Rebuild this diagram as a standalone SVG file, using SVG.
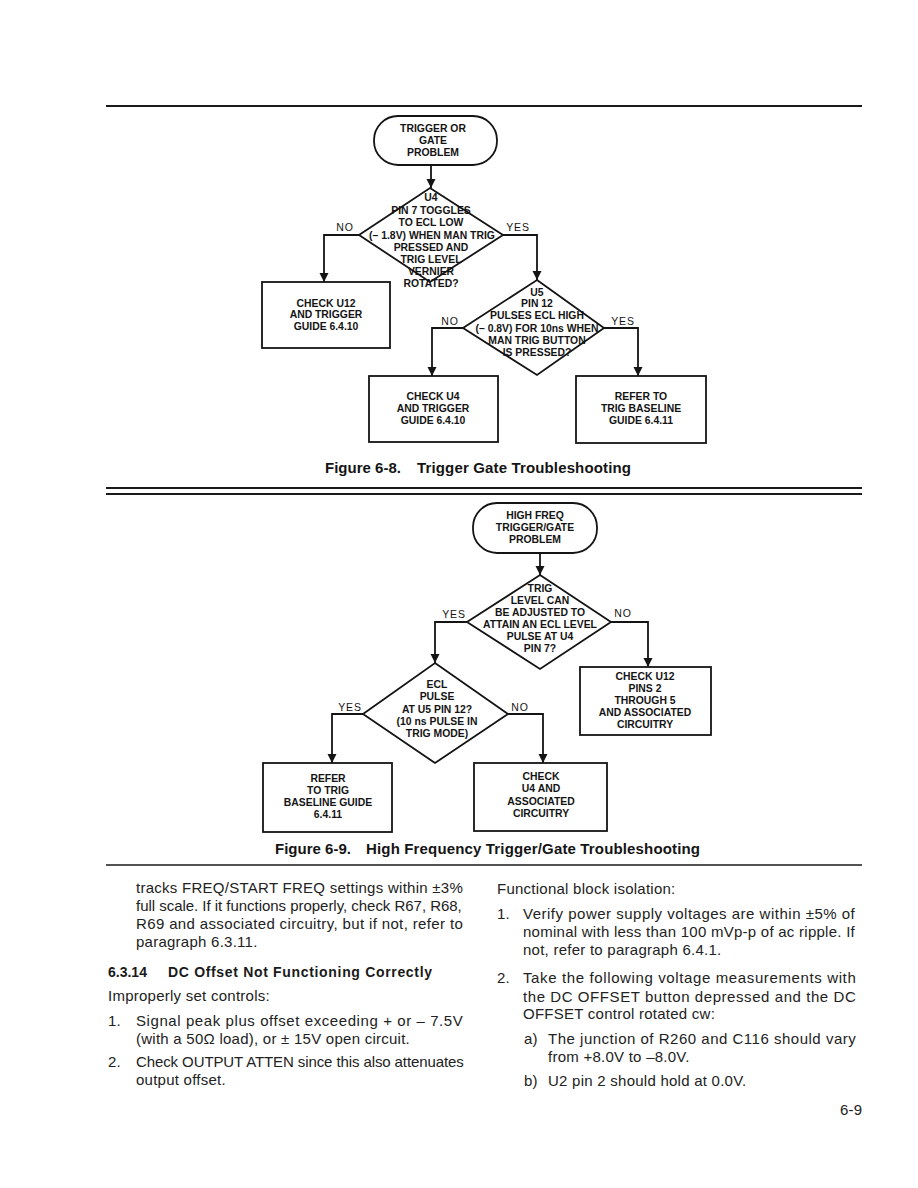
<svg xmlns="http://www.w3.org/2000/svg" width="918" height="1188" viewBox="0 0 918 1188">
<style>
.bg{fill:#fff}
.rule{stroke:#1a1a1a;stroke-width:2;fill:none}
.shape{fill:none;stroke:#141414;stroke-width:1.8}
.conn{fill:none;stroke:#141414;stroke-width:1.8}
.ft{font-family:"Liberation Sans",Arial,sans-serif;font-size:10.4px;font-weight:bold;fill:#141414;text-anchor:middle}
.lbl{font-family:"Liberation Sans",Arial,sans-serif;font-size:10.5px;fill:#141414;text-anchor:middle;letter-spacing:0.8px}
.cap{font-family:"Liberation Sans",Arial,sans-serif;font-size:15px;font-weight:bold;fill:#141414}
.body{font-family:"Liberation Sans",Arial,sans-serif;font-size:15px;letter-spacing:0.25px;fill:#222}
.head{font-family:"Liberation Sans",Arial,sans-serif;font-size:14px;font-weight:bold;fill:#1a1a1a}
</style>
<defs>
<marker id="arr" markerUnits="userSpaceOnUse" markerWidth="10" markerHeight="10" refX="9" refY="4.5" orient="auto">
<path d="M0,0 L9,4.5 L0,9 z" fill="#141414"/>
</marker>
</defs>
<rect class="bg" x="0" y="0" width="918" height="1188"/>

<g id="rules">
<line class="rule" x1="106" y1="106" x2="862" y2="106"/>
<line class="rule" x1="106" y1="488" x2="862" y2="488" style="stroke-width:1.8"/>
<line class="rule" x1="106" y1="494" x2="862" y2="494" style="stroke-width:1.8"/>
<line class="rule" x1="106" y1="865" x2="862" y2="865" style="stroke-width:1.6"/>
</g>

<g id="connectors">
<path class="conn" d="M431,166 L431,188" marker-end="url(#arr)"/>
<path class="conn" d="M359,235 L324,235 L324,282" marker-end="url(#arr)"/>
<path class="conn" d="M503,235 L537,235 L537,280" marker-end="url(#arr)"/>
<path class="conn" d="M463,328 L432,328 L432,376" marker-end="url(#arr)"/>
<path class="conn" d="M604,328 L638,328 L638,376" marker-end="url(#arr)"/>
<path class="conn" d="M540,553 L540,575" marker-end="url(#arr)"/>
<path class="conn" d="M467,622 L435,622 L435,663" marker-end="url(#arr)"/>
<path class="conn" d="M611,622 L648,622 L648,667" marker-end="url(#arr)"/>
<path class="conn" d="M363,714 L332,714 L332,763" marker-end="url(#arr)"/>
<path class="conn" d="M508,714 L543,714 L543,763" marker-end="url(#arr)"/>
<text class="lbl" x="345" y="231">NO</text>
<text class="lbl" x="518" y="231">YES</text>
<text class="lbl" x="450" y="325">NO</text>
<text class="lbl" x="623" y="325">YES</text>
<text class="lbl" x="454" y="618">YES</text>
<text class="lbl" x="623" y="617">NO</text>
<text class="lbl" x="350" y="711">YES</text>
<text class="lbl" x="520" y="711">NO</text>
</g>

<g id="start1">
<rect class="shape" x="374" y="116" width="123" height="49" rx="24" ry="24"/>
<text class="ft" x="433" y="131.5">TRIGGER OR</text>
<text class="ft" x="433" y="143.5">GATE</text>
<text class="ft" x="433" y="155.5">PROBLEM</text>
</g>

<g id="dec1">
<path class="shape" d="M430,188 L503,235 L430,282 L359,235 Z"/>
<text class="ft" x="431" y="200.5">U4</text>
<text class="ft" x="431" y="213.5">PIN 7 TOGGLES</text>
<text class="ft" x="431" y="225.5">TO ECL LOW</text>
<text class="ft" x="432" y="238.5">(– 1.8V) WHEN MAN TRIG</text>
<text class="ft" x="431" y="250.5">PRESSED AND</text>
<text class="ft" x="431" y="262.5">TRIG LEVEL</text>
<text class="ft" x="431" y="274.5">VERNIER</text>
<text class="ft" x="431" y="286.5">ROTATED?</text>
</g>

<g id="box1">
<rect class="shape" x="262" y="282" width="128" height="66"/>
<text class="ft" x="326" y="306.5">CHECK U12</text>
<text class="ft" x="326" y="318">AND TRIGGER</text>
<text class="ft" x="326" y="329.5">GUIDE 6.4.10</text>
</g>

<g id="dec2">
<path class="shape" d="M537,280 L604,328 L537,375 L463,328 Z"/>
<text class="ft" x="537" y="295.5">U5</text>
<text class="ft" x="537" y="306.5">PIN 12</text>
<text class="ft" x="537" y="318.5">PULSES ECL HIGH</text>
<text class="ft" x="537" y="331.5">(– 0.8V) FOR 10ns WHEN</text>
<text class="ft" x="537" y="343.5">MAN TRIG BUTTON</text>
<text class="ft" x="537" y="355.5">IS PRESSED?</text>
</g>

<g id="box2">
<rect class="shape" x="369" y="376" width="129" height="66"/>
<text class="ft" x="433" y="399.5">CHECK U4</text>
<text class="ft" x="433" y="411.5">AND TRIGGER</text>
<text class="ft" x="433" y="423.5">GUIDE 6.4.10</text>
</g>

<g id="box3">
<rect class="shape" x="576" y="376" width="130" height="67"/>
<text class="ft" x="641" y="399.5">REFER TO</text>
<text class="ft" x="641" y="411.5">TRIG BASELINE</text>
<text class="ft" x="641" y="423.5">GUIDE 6.4.11</text>
</g>

<g id="caption1">
<text class="cap" x="325" y="473" textLength="76">Figure 6-8.</text>
<text class="cap" x="417" y="473" textLength="214">Trigger Gate Troubleshooting</text>
</g>

<g id="start2">
<rect class="shape" x="473" y="503" width="124" height="50" rx="24" ry="24"/>
<text class="ft" x="535" y="518.5">HIGH FREQ</text>
<text class="ft" x="535" y="530.5">TRIGGER/GATE</text>
<text class="ft" x="535" y="542.5">PROBLEM</text>
</g>

<g id="dec3">
<path class="shape" d="M540,575 L611,622 L540,669 L467,622 Z"/>
<text class="ft" x="540" y="591.5">TRIG</text>
<text class="ft" x="540" y="603.5">LEVEL CAN</text>
<text class="ft" x="540" y="615.5">BE ADJUSTED TO</text>
<text class="ft" x="540" y="627.5">ATTAIN AN ECL LEVEL</text>
<text class="ft" x="540" y="640">PULSE AT U4</text>
<text class="ft" x="540" y="651.5">PIN 7?</text>
</g>

<g id="box4">
<rect class="shape" x="580" y="667" width="131" height="68"/>
<text class="ft" x="645" y="679.5">CHECK U12</text>
<text class="ft" x="645" y="691.5">PINS 2</text>
<text class="ft" x="645" y="703.5">THROUGH 5</text>
<text class="ft" x="645" y="715.5">AND ASSOCIATED</text>
<text class="ft" x="645" y="727.5">CIRCUITRY</text>
</g>

<g id="dec4">
<path class="shape" d="M435,663 L508,714 L435,763 L363,714 Z"/>
<text class="ft" x="437" y="687.5">ECL</text>
<text class="ft" x="437" y="699.5">PULSE</text>
<text class="ft" x="437" y="713">AT U5 PIN 12?</text>
<text class="ft" x="437" y="725">(10 ns PULSE IN</text>
<text class="ft" x="437" y="737">TRIG MODE)</text>
</g>

<g id="box5">
<rect class="shape" x="263" y="763" width="129" height="69"/>
<text class="ft" x="328" y="781.5">REFER</text>
<text class="ft" x="328" y="793.5">TO TRIG</text>
<text class="ft" x="328" y="805.5">BASELINE GUIDE</text>
<text class="ft" x="328" y="817.5">6.4.11</text>
</g>

<g id="box6">
<rect class="shape" x="474" y="763" width="133" height="68"/>
<text class="ft" x="541" y="779.5">CHECK</text>
<text class="ft" x="541" y="792">U4 AND</text>
<text class="ft" x="541" y="804.5">ASSOCIATED</text>
<text class="ft" x="541" y="816.5">CIRCUITRY</text>
</g>

<g id="caption2">
<text class="cap" x="275" y="854" textLength="76">Figure 6-9.</text>
<text class="cap" x="366" y="854" textLength="334">High Frequency Trigger/Gate Troubleshooting</text>
</g>

<g id="text-left">
<text class="body" x="136" y="893" textLength="327">tracks FREQ/START FREQ settings within ±3%</text>
<text class="body" x="136" y="911" textLength="326">full scale. If it functions properly, check R67, R68,</text>
<text class="body" x="136" y="929" textLength="327">R69 and associated circuitry, but if not, refer to</text>
<text class="body" x="136" y="947">paragraph 6.3.11.</text>
<text class="head" x="108" y="977">6.3.14</text>
<text class="head" x="168" y="977" textLength="264">DC Offset Not Functioning Correctly</text>
<text class="body" x="108" y="1001">Improperly set controls:</text>
<text class="body" x="108" y="1026">1.</text>
<text class="body" x="136" y="1026" textLength="327">Signal peak plus offset exceeding + or – 7.5V</text>
<text class="body" x="136" y="1044">(with a 50Ω load), or ± 15V open circuit.</text>
<text class="body" x="108" y="1067">2.</text>
<text class="body" x="136" y="1067" textLength="328">Check OUTPUT ATTEN since this also attenuates</text>
<text class="body" x="136" y="1085">output offset.</text>
</g>

<g id="text-right">
<text class="body" x="497" y="894">Functional block isolation:</text>
<text class="body" x="497" y="919">1.</text>
<text class="body" x="523" y="919" textLength="332">Verify power supply voltages are within ±5% of</text>
<text class="body" x="523" y="937" textLength="332">nominal with less than 100 mVp-p of ac ripple. If</text>
<text class="body" x="523" y="955">not, refer to paragraph 6.4.1.</text>
<text class="body" x="497" y="983">2.</text>
<text class="body" x="523" y="983" textLength="333">Take the following voltage measurements with</text>
<text class="body" x="523" y="1002" textLength="333">the DC OFFSET button depressed and the DC</text>
<text class="body" x="523" y="1019">OFFSET control rotated cw:</text>
<text class="body" x="524" y="1044">a)</text>
<text class="body" x="548" y="1044" textLength="308">The junction of R260 and C116 should vary</text>
<text class="body" x="548" y="1062">from +8.0V to –8.0V.</text>
<text class="body" x="524" y="1086">b)</text>
<text class="body" x="548" y="1086">U2 pin 2 should hold at 0.0V.</text>
<text class="body" x="840" y="1115">6-9</text>
</g>
</svg>
